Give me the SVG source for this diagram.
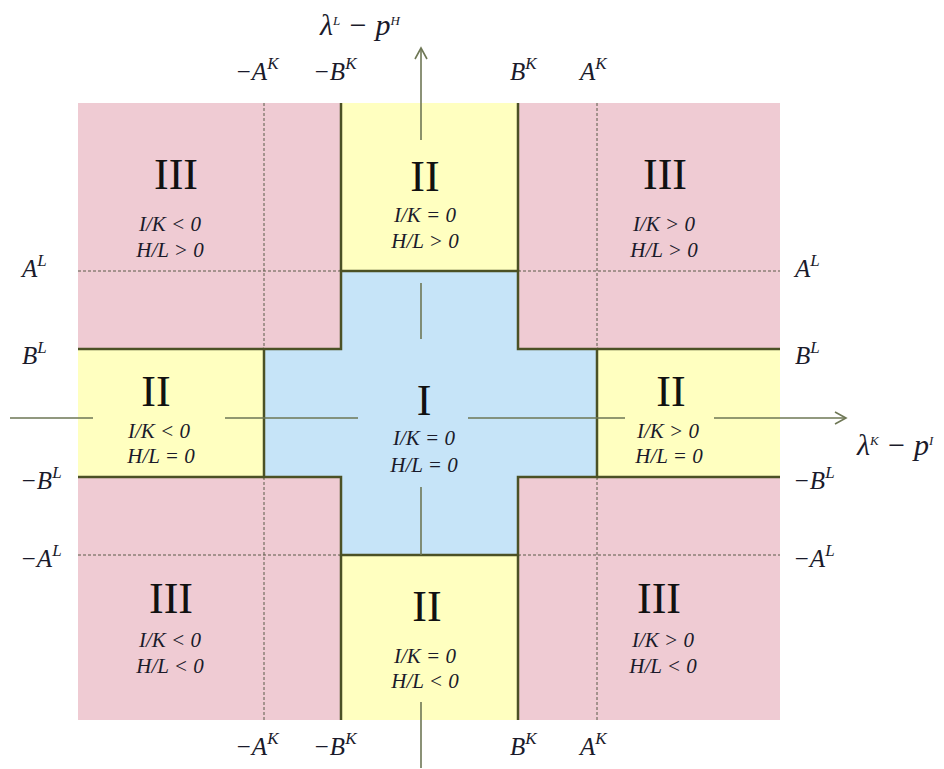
<svg xmlns="http://www.w3.org/2000/svg" width="944" height="769" viewBox="0 0 944 769">
<style>
.pink{fill:#EFCBD3}
.yel{fill:#FFFFC0}
.blue{fill:#C6E4F8}
.bd{fill:none;stroke:#4B5125;stroke-width:2.5}
.dot{fill:none;stroke:#5a5a48;stroke-width:1;stroke-dasharray:3 2}
.ax{fill:none;stroke:#6E7755;stroke-width:1.6}
.rn{font-family:"Liberation Serif",serif;font-size:44px;fill:#111;text-anchor:middle}
.eq{font-family:"Liberation Serif",serif;font-style:italic;font-size:21px;fill:#1a1a2a;text-anchor:middle}
.lb{font-family:"Liberation Serif",serif;font-style:italic;font-size:25px;fill:#1a1a2a}
.axl{font-family:"Liberation Serif",serif;font-style:italic;font-size:30px;fill:#1a1a2a}
.sup{font-size:17px}
.sup2{font-size:13px}
</style>
<defs>
<marker id="arr" markerWidth="14" markerHeight="14" refX="12" refY="7" orient="auto" markerUnits="userSpaceOnUse">
<path d="M1,1 L12,7 L1,13" fill="none" stroke="#6E7755" stroke-width="1.6"/>
</marker>
</defs>
<g id="regions">
<rect class="pink" x="78" y="103" width="702" height="617"/>
<rect class="yel" x="341" y="103" width="177" height="168"/>
<rect class="yel" x="341" y="555" width="177" height="165"/>
<rect class="yel" x="78" y="349" width="186" height="128"/>
<rect class="yel" x="597" y="349" width="183" height="128"/>
<polygon class="blue" points="341,271 518,271 518,349 597,349 597,477 518,477 518,555 341,555 341,477 264,477 264,349 341,349"/>
</g>
<g id="gridlines">
<path class="dot" d="M264,103V349M264,477V720M597,103V349M597,477V720M78,271H341M518,271H780M78,555H341M518,555H780"/>
<polygon class="bd" points="341,271 518,271 518,349 597,349 597,477 518,477 518,555 341,555 341,477 264,477 264,349 341,349"/>
<path class="bd" d="M341,103V271M518,103V271M78,349H264M597,349H780M78,477H264M597,477H780M341,555V720M518,555V720"/>
</g>
<g id="connectors">
<path class="ax" d="M10,418H93M225,418H358M468,418H625"/>
<path class="ax" d="M714,418H846" marker-end="url(#arr)"/>
<path class="ax" d="M421,140V48" marker-end="url(#arr)"/>
<path class="ax" d="M421,283V339M421,487V555M421,702V768"/>
</g>
<g id="region-I">
<text class="rn" x="424" y="415">I</text>
<text class="eq" x="424" y="445">I/K = 0</text>
<text class="eq" x="424" y="472">H/L = 0</text>
</g>
<g id="region-II-top">
<text class="rn" x="425" y="191">II</text>
<text class="eq" x="425" y="222">I/K = 0</text>
<text class="eq" x="425" y="248">H/L &gt; 0</text>
</g>
<g id="region-II-bottom">
<text class="rn" x="427" y="621">II</text>
<text class="eq" x="425" y="663">I/K = 0</text>
<text class="eq" x="425" y="688">H/L &lt; 0</text>
</g>
<g id="region-II-left">
<text class="rn" x="156" y="406">II</text>
<text class="eq" x="159" y="438">I/K &lt; 0</text>
<text class="eq" x="161" y="463">H/L = 0</text>
</g>
<g id="region-II-right">
<text class="rn" x="671" y="406">II</text>
<text class="eq" x="668" y="438">I/K &gt; 0</text>
<text class="eq" x="669" y="463">H/L = 0</text>
</g>
<g id="region-III-tl">
<text class="rn" x="176" y="189">III</text>
<text class="eq" x="170" y="231">I/K &lt; 0</text>
<text class="eq" x="170" y="257">H/L &gt; 0</text>
</g>
<g id="region-III-tr">
<text class="rn" x="665" y="189">III</text>
<text class="eq" x="664" y="231">I/K &gt; 0</text>
<text class="eq" x="664" y="257">H/L &gt; 0</text>
</g>
<g id="region-III-bl">
<text class="rn" x="171" y="613">III</text>
<text class="eq" x="170" y="647">I/K &lt; 0</text>
<text class="eq" x="170" y="673">H/L &lt; 0</text>
</g>
<g id="region-III-br">
<text class="rn" x="659" y="613">III</text>
<text class="eq" x="663" y="647">I/K &gt; 0</text>
<text class="eq" x="663" y="673">H/L &lt; 0</text>
</g>
<g id="labels">
<text class="axl" x="320" y="35">λ<tspan class="sup2" dy="-10">L</tspan><tspan dy="10"> − p</tspan><tspan class="sup2" dy="-10">H</tspan></text>
<text class="axl" x="857" y="455">λ<tspan class="sup2" dy="-10">K</tspan><tspan dy="10"> − p</tspan><tspan class="sup2" dy="-10">I</tspan></text>
<text class="lb" x="235" y="80">−A<tspan class="sup" dy="-11">K</tspan></text>
<text class="lb" x="313" y="80">−B<tspan class="sup" dy="-11">K</tspan></text>
<text class="lb" x="510" y="80">B<tspan class="sup" dy="-11">K</tspan></text>
<text class="lb" x="580" y="80">A<tspan class="sup" dy="-11">K</tspan></text>
<text class="lb" x="235" y="755">−A<tspan class="sup" dy="-11">K</tspan></text>
<text class="lb" x="313" y="755">−B<tspan class="sup" dy="-11">K</tspan></text>
<text class="lb" x="510" y="755">B<tspan class="sup" dy="-11">K</tspan></text>
<text class="lb" x="580" y="755">A<tspan class="sup" dy="-11">K</tspan></text>
<text class="lb" x="22" y="277">A<tspan class="sup" dy="-11">L</tspan></text>
<text class="lb" x="22" y="364">B<tspan class="sup" dy="-11">L</tspan></text>
<text class="lb" x="20" y="489">−B<tspan class="sup" dy="-11">L</tspan></text>
<text class="lb" x="20" y="567">−A<tspan class="sup" dy="-11">L</tspan></text>
<text class="lb" x="795" y="277">A<tspan class="sup" dy="-11">L</tspan></text>
<text class="lb" x="795" y="364">B<tspan class="sup" dy="-11">L</tspan></text>
<text class="lb" x="793" y="489">−B<tspan class="sup" dy="-11">L</tspan></text>
<text class="lb" x="793" y="567">−A<tspan class="sup" dy="-11">L</tspan></text>
</g>
</svg>
